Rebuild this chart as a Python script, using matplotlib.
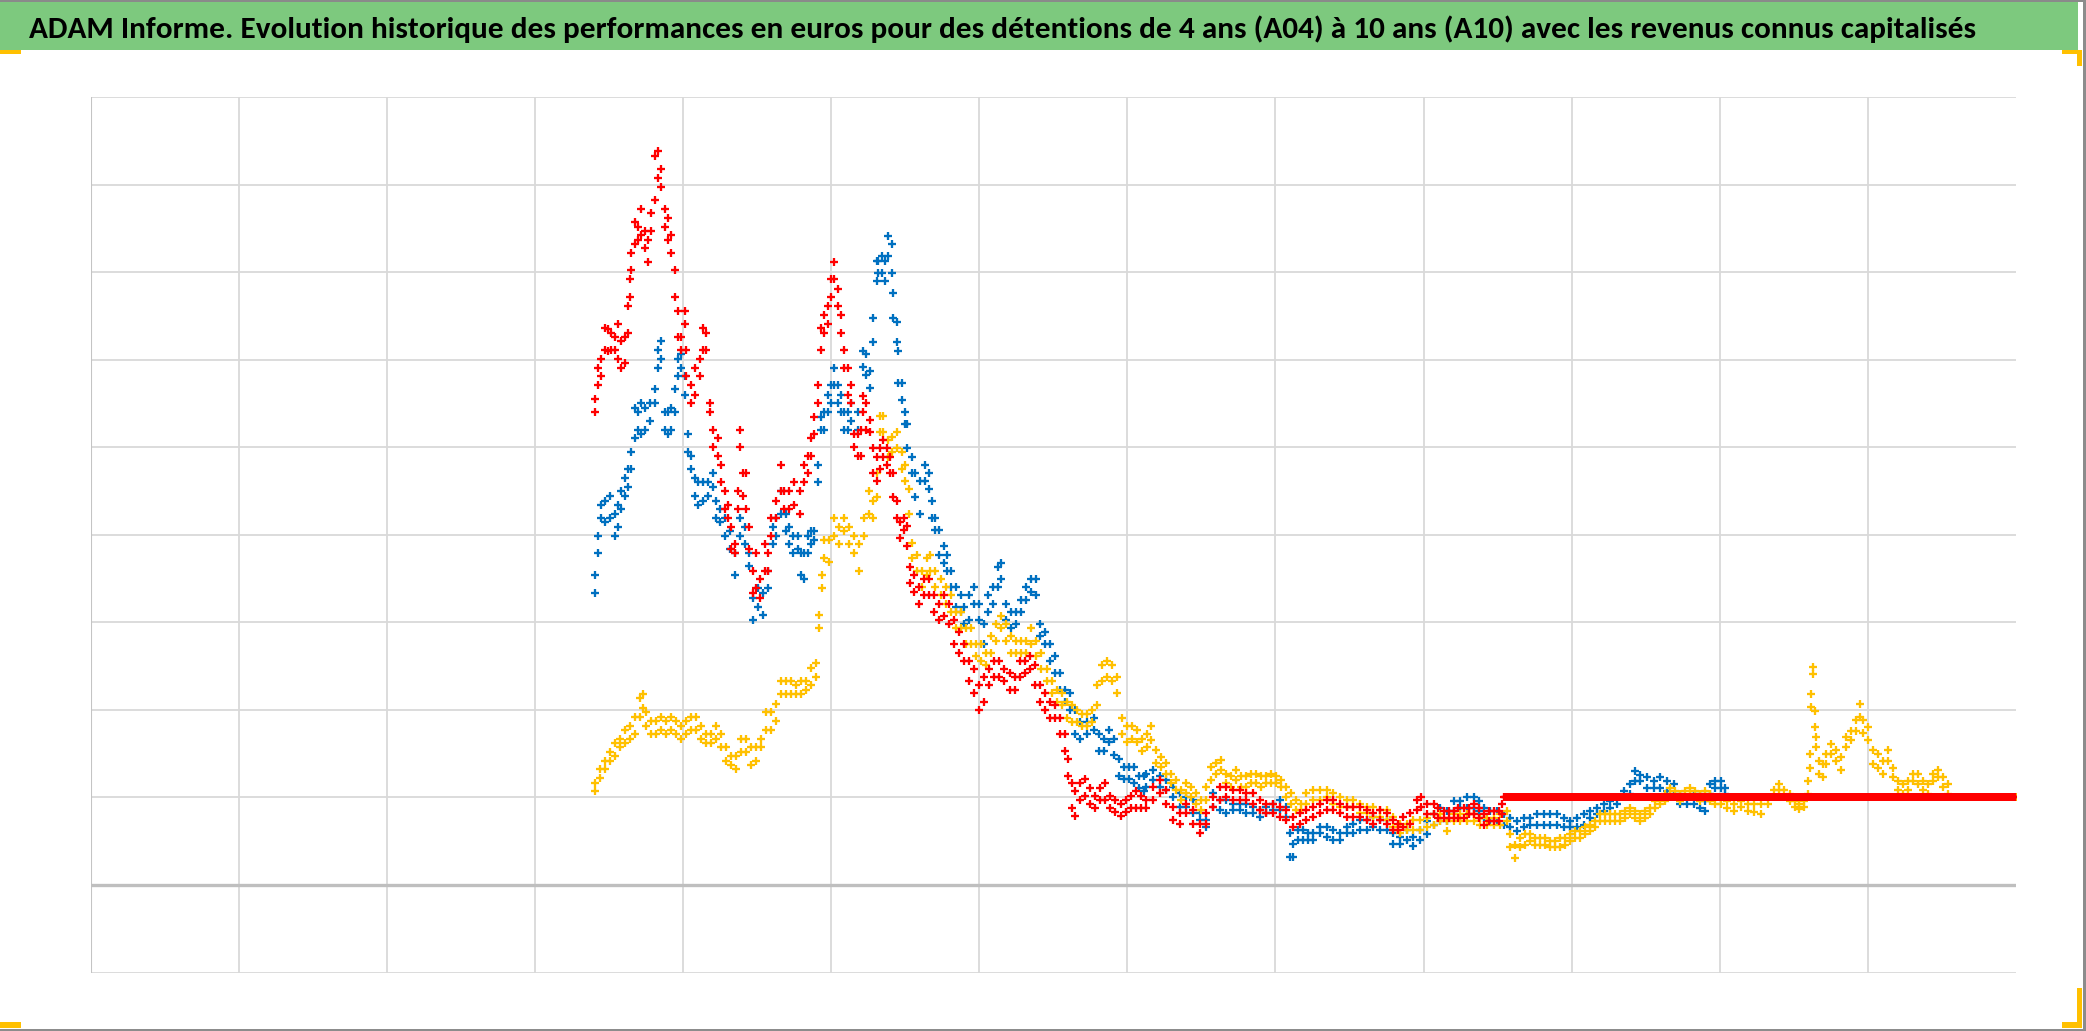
import numpy as np
import matplotlib
matplotlib.use("Agg")
import matplotlib.pyplot as plt
from matplotlib.patches import Rectangle
from matplotlib import font_manager

# ---------------- data (x in grid units, each sample: (x, low, high) of the marker cloud) -------------
title = ("ADAM Informe. Evolution historique des performances en euros pour des détentions "
         "de 4 ans (A04) à 10 ans (A10) avec les revenus connus capitalisés")

blue_pts = [
    (3.404, 3.34, 3.54), (3.427, 3.79, 3.99), (3.449, 4.19, 4.34), (3.472, 4.14, 4.39), (3.506, 4.19, 4.44),
    (3.539, 3.99, 4.24), (3.562, 4.09, 4.34), (3.584, 4.29, 4.50), (3.607, 4.44, 4.65), (3.629, 4.55, 4.75),
    (3.652, 4.75, 4.95), (3.674, 5.10, 5.45), (3.697, 5.20, 5.40), (3.719, 5.15, 5.50), (3.742, 5.20, 5.45),
    (3.775, 5.30, 5.50), (3.809, 5.50, 5.66), (3.831, 5.91, 6.11), (3.854, 6.01, 6.21), (3.876, 5.20, 5.40),
    (3.899, 5.15, 5.40), (3.921, 5.20, 5.45), (3.944, 5.40, 5.66), (3.966, 5.81, 6.01), (3.989, 5.91, 6.06),
    (4.011, 5.60, 5.81), (4.034, 4.95, 5.15), (4.056, 4.75, 4.90), (4.079, 4.44, 4.65), (4.101, 4.34, 4.60),
    (4.135, 4.39, 4.60), (4.169, 4.44, 4.60), (4.202, 4.55, 4.70), (4.225, 4.19, 4.39), (4.247, 4.14, 4.29),
    (4.281, 3.99, 4.19), (4.315, 3.84, 4.04), (4.348, 3.54, 3.79), (4.382, 3.99, 4.19), (4.416, 3.89, 4.09),
    (4.449, 3.64, 3.79), (4.472, 3.03, 3.28), (4.506, 3.18, 3.39), (4.539, 3.08, 3.34), (4.573, 3.39, 3.59),
    (4.607, 3.89, 4.09), (4.629, 3.99, 4.19), (4.663, 4.24, 4.50), (4.697, 4.04, 4.24), (4.719, 3.89, 4.09),
    (4.742, 3.79, 3.99), (4.775, 3.84, 3.99), (4.798, 3.54, 3.79), (4.820, 3.49, 3.79), (4.843, 3.79, 3.99),
    (4.865, 3.89, 4.04), (4.888, 3.94, 4.04), (4.910, 4.60, 4.80), (4.933, 5.20, 5.35), (4.955, 5.20, 5.40),
    (4.978, 5.40, 5.60), (5.000, 5.50, 5.71), (5.022, 5.71, 5.91), (5.045, 5.50, 5.71), (5.067, 5.40, 5.60),
    (5.090, 5.20, 5.40), (5.112, 5.20, 5.40), (5.135, 5.30, 5.50), (5.180, 5.20, 5.40), (5.216, 5.92, 6.10),
    (5.239, 5.82, 6.06), (5.261, 5.68, 5.87), (5.284, 6.20, 6.48), (5.307, 6.90, 7.13), (5.318, 6.99, 7.13),
    (5.341, 6.99, 7.18), (5.364, 6.90, 7.13), (5.386, 7.18, 7.41), (5.409, 6.99, 7.32), (5.420, 6.48, 6.76),
    (5.443, 6.20, 6.43), (5.455, 5.73, 6.10), (5.477, 5.54, 5.73), (5.500, 5.26, 5.40), (5.511, 4.99, 5.26),
    (5.545, 4.71, 4.89), (5.568, 4.43, 4.71), (5.602, 4.24, 4.61), (5.636, 4.61, 4.80), (5.659, 4.52, 4.71),
    (5.682, 4.19, 4.38), (5.705, 4.05, 4.19), (5.727, 3.77, 4.05), (5.761, 3.68, 3.87), (5.784, 3.59, 3.77),
    (5.807, 3.40, 3.59), (5.841, 3.17, 3.40), (5.875, 3.12, 3.31), (5.898, 2.98, 3.17), (5.932, 3.03, 3.31),
    (5.966, 3.21, 3.40), (6.000, 3.03, 3.21), (6.034, 2.75, 2.98), (6.057, 3.12, 3.31), (6.091, 3.21, 3.40),
    (6.125, 3.40, 3.63), (6.148, 3.49, 3.68), (6.182, 3.03, 3.21), (6.216, 2.93, 3.12), (6.250, 2.98, 3.12),
    (6.284, 3.12, 3.26), (6.318, 3.26, 3.40), (6.352, 3.35, 3.49), (6.386, 3.31, 3.49), (6.409, 2.84, 2.98),
    (6.443, 2.75, 2.89), (6.477, 2.56, 2.75), (6.511, 2.42, 2.61), (6.545, 2.23, 2.42), (6.580, 2.09, 2.23),
    (6.614, 2.00, 2.19), (6.648, 1.72, 2.00), (6.682, 1.67, 1.86), (6.727, 1.72, 1.86), (6.773, 1.77, 1.91),
    (6.807, 1.53, 1.72), (6.841, 1.53, 1.67), (6.875, 1.63, 1.77), (6.909, 1.49, 1.67), (6.943, 1.25, 1.44),
    (6.977, 1.21, 1.35), (7.011, 1.21, 1.35), (7.045, 1.16, 1.35), (7.080, 1.11, 1.25), (7.114, 1.07, 1.25),
    (7.128, 1.12, 1.27), (7.173, 1.20, 1.31), (7.218, 1.12, 1.24), (7.264, 1.08, 1.20), (7.309, 1.01, 1.12),
    (7.354, 0.89, 1.05), (7.399, 0.89, 1.01), (7.444, 0.82, 0.97), (7.489, 0.74, 0.82), (7.534, 0.66, 0.74),
    (7.579, 0.89, 1.05), (7.624, 0.86, 0.97), (7.669, 0.82, 0.97), (7.714, 0.86, 0.93), (7.759, 0.86, 0.93),
    (7.804, 0.82, 0.93), (7.849, 0.82, 0.89), (7.894, 0.78, 0.86), (7.939, 0.82, 0.89), (7.984, 0.86, 0.93),
    (8.029, 0.86, 0.97), (8.074, 0.78, 0.89), (8.097, 0.32, 0.59), (8.119, 0.32, 0.47), (8.153, 0.51, 0.63),
    (8.187, 0.51, 0.63), (8.221, 0.51, 0.59), (8.255, 0.51, 0.59), (8.300, 0.59, 0.66), (8.345, 0.55, 0.66),
    (8.390, 0.51, 0.63), (8.435, 0.51, 0.59), (8.480, 0.59, 0.66), (8.525, 0.59, 0.70), (8.570, 0.63, 0.74),
    (8.615, 0.63, 0.74), (8.660, 0.66, 0.78), (8.705, 0.63, 0.74), (8.750, 0.63, 0.74), (8.795, 0.47, 0.59),
    (8.840, 0.47, 0.55), (8.885, 0.51, 0.63), (8.930, 0.44, 0.55), (8.975, 0.51, 0.63), (9.023, 0.58, 0.73),
    (9.068, 0.69, 0.81), (9.113, 0.73, 0.88), (9.158, 0.73, 0.85), (9.203, 0.85, 0.96), (9.248, 0.88, 0.96),
    (9.293, 0.88, 1.00), (9.338, 0.88, 1.00), (9.372, 0.85, 0.96), (9.405, 0.77, 0.88), (9.450, 0.73, 0.85),
    (9.495, 0.73, 0.85), (9.541, 0.69, 0.81), (9.586, 0.66, 0.77), (9.631, 0.62, 0.73), (9.676, 0.66, 0.77),
    (9.721, 0.69, 0.77), (9.766, 0.69, 0.81), (9.811, 0.69, 0.81), (9.856, 0.69, 0.81), (9.901, 0.69, 0.81),
    (9.946, 0.66, 0.77), (9.991, 0.66, 0.73), (10.036, 0.66, 0.77), (10.081, 0.69, 0.81), (10.126, 0.77, 0.85),
    (10.171, 0.81, 0.88), (10.216, 0.85, 0.92), (10.261, 0.88, 0.96), (10.306, 0.92, 1.00), (10.351, 1.00, 1.07),
    (10.396, 1.04, 1.15), (10.430, 1.19, 1.30), (10.464, 1.19, 1.26), (10.509, 1.11, 1.23), (10.554, 1.11, 1.19),
    (10.599, 1.11, 1.23), (10.644, 1.07, 1.19), (10.689, 1.04, 1.15), (10.734, 0.92, 1.04), (10.779, 0.92, 1.00),
    (10.824, 0.92, 1.04), (10.869, 0.88, 1.04), (10.903, 0.85, 0.96), (10.937, 1.04, 1.15), (10.971, 1.11, 1.19),
    (11.005, 1.11, 1.19), (11.038, 1.04, 1.11),
]

yellow_pts = [
    (3.404, 1.07, 1.17), (3.438, 1.22, 1.32), (3.472, 1.32, 1.42), (3.506, 1.42, 1.52), (3.539, 1.47, 1.62),
    (3.573, 1.57, 1.67), (3.607, 1.62, 1.77), (3.640, 1.67, 1.82), (3.674, 1.72, 1.92), (3.708, 1.92, 2.13),
    (3.730, 2.02, 2.18), (3.753, 1.82, 1.97), (3.787, 1.72, 1.87), (3.820, 1.72, 1.87), (3.854, 1.77, 1.92),
    (3.888, 1.72, 1.87), (3.921, 1.77, 1.92), (3.955, 1.72, 1.87), (3.989, 1.67, 1.82), (4.022, 1.72, 1.87),
    (4.056, 1.77, 1.92), (4.090, 1.77, 1.92), (4.124, 1.67, 1.82), (4.157, 1.62, 1.72), (4.191, 1.62, 1.72),
    (4.225, 1.67, 1.82), (4.258, 1.57, 1.72), (4.292, 1.42, 1.57), (4.326, 1.37, 1.47), (4.360, 1.32, 1.47),
    (4.393, 1.52, 1.67), (4.427, 1.52, 1.67), (4.461, 1.37, 1.57), (4.494, 1.42, 1.57), (4.528, 1.57, 1.67),
    (4.562, 1.77, 1.97), (4.596, 1.77, 1.97), (4.629, 1.87, 2.07), (4.663, 2.18, 2.33), (4.697, 2.18, 2.33),
    (4.730, 2.18, 2.33), (4.764, 2.18, 2.28), (4.798, 2.18, 2.33), (4.831, 2.23, 2.33), (4.865, 2.28, 2.48),
    (4.899, 2.38, 2.53), (4.921, 2.93, 3.08), (4.937, 3.39, 3.54), (4.955, 3.74, 3.94), (4.989, 3.69, 3.94),
    (5.022, 3.99, 4.19), (5.056, 3.89, 4.09), (5.090, 4.04, 4.19), (5.124, 3.89, 4.09), (5.157, 3.79, 3.99),
    (5.191, 3.59, 3.89), (5.225, 3.99, 4.19), (5.258, 4.24, 4.50), (5.284, 4.19, 4.38), (5.307, 4.43, 4.71),
    (5.330, 5.17, 5.36), (5.352, 5.17, 5.36), (5.386, 4.89, 5.08), (5.409, 4.94, 5.12), (5.443, 4.99, 5.17),
    (5.477, 4.75, 4.94), (5.500, 4.61, 4.80), (5.523, 4.24, 4.52), (5.545, 3.73, 3.91), (5.580, 3.59, 3.77),
    (5.614, 3.40, 3.59), (5.648, 3.54, 3.73), (5.670, 3.59, 3.77), (5.705, 3.40, 3.59), (5.739, 3.31, 3.49),
    (5.773, 3.21, 3.40), (5.807, 3.12, 3.31), (5.841, 2.93, 3.12), (5.875, 2.93, 3.12), (5.909, 2.75, 2.93),
    (5.943, 2.75, 2.93), (5.977, 2.61, 2.75), (6.011, 2.56, 2.75), (6.045, 2.51, 2.65), (6.080, 2.65, 2.84),
    (6.114, 2.79, 2.98), (6.148, 2.93, 3.07), (6.182, 2.79, 2.98), (6.216, 2.65, 2.84), (6.250, 2.65, 2.79),
    (6.284, 2.65, 2.79), (6.318, 2.65, 2.79), (6.352, 2.75, 2.93), (6.386, 2.61, 2.79), (6.420, 2.47, 2.65),
    (6.455, 2.33, 2.47), (6.489, 2.19, 2.33), (6.523, 2.09, 2.23), (6.557, 2.05, 2.19), (6.591, 1.91, 2.09),
    (6.625, 1.86, 2.05), (6.659, 1.86, 2.00), (6.693, 1.81, 1.95), (6.727, 1.81, 1.95), (6.761, 1.86, 2.00),
    (6.795, 2.05, 2.28), (6.830, 2.33, 2.51), (6.864, 2.37, 2.56), (6.898, 2.33, 2.51), (6.932, 2.19, 2.37),
    (6.966, 1.72, 1.91), (7.000, 1.63, 1.81), (7.034, 1.67, 1.81), (7.068, 1.63, 1.77), (7.102, 1.53, 1.67),
    (7.136, 1.58, 1.72), (7.162, 1.66, 1.81), (7.196, 1.39, 1.54), (7.230, 1.35, 1.46), (7.264, 1.27, 1.39),
    (7.297, 1.16, 1.27), (7.331, 1.08, 1.20), (7.365, 0.97, 1.08), (7.399, 1.05, 1.16), (7.432, 1.01, 1.12),
    (7.466, 0.93, 1.05), (7.500, 0.86, 0.97), (7.534, 0.97, 1.12), (7.568, 1.20, 1.35), (7.601, 1.27, 1.39),
    (7.635, 1.31, 1.43), (7.669, 1.16, 1.27), (7.703, 1.12, 1.24), (7.736, 1.20, 1.31), (7.770, 1.12, 1.24),
    (7.804, 1.12, 1.24), (7.838, 1.16, 1.27), (7.872, 1.16, 1.27), (7.905, 1.12, 1.24), (7.939, 1.16, 1.24),
    (7.973, 1.16, 1.27), (8.007, 1.16, 1.24), (8.041, 1.12, 1.20), (8.074, 1.01, 1.12), (8.108, 0.93, 1.05),
    (8.142, 0.86, 0.97), (8.176, 0.86, 0.93), (8.209, 0.93, 1.05), (8.255, 0.97, 1.08), (8.300, 0.97, 1.08),
    (8.345, 1.01, 1.08), (8.390, 0.93, 1.05), (8.435, 0.89, 1.01), (8.480, 0.89, 0.97), (8.525, 0.89, 0.97),
    (8.570, 0.82, 0.93), (8.615, 0.82, 0.89), (8.660, 0.78, 0.89), (8.705, 0.78, 0.86), (8.750, 0.74, 0.86),
    (8.795, 0.66, 0.78), (8.840, 0.59, 0.70), (8.885, 0.63, 0.70), (8.930, 0.63, 0.74), (8.975, 0.63, 0.74),
    (9.023, 0.66, 0.77), (9.068, 0.69, 0.81), (9.113, 0.73, 0.81), (9.158, 0.62, 0.73), (9.203, 0.73, 0.81),
    (9.248, 0.73, 0.81), (9.293, 0.73, 0.81), (9.338, 0.73, 0.81), (9.383, 0.69, 0.77), (9.428, 0.69, 0.77),
    (9.473, 0.69, 0.77), (9.518, 0.69, 0.81), (9.563, 0.73, 0.85), (9.586, 0.43, 0.58), (9.619, 0.31, 0.46),
    (9.653, 0.43, 0.54), (9.687, 0.46, 0.58), (9.721, 0.50, 0.58), (9.755, 0.46, 0.54), (9.788, 0.46, 0.54),
    (9.822, 0.46, 0.54), (9.856, 0.43, 0.50), (9.890, 0.43, 0.50), (9.923, 0.43, 0.54), (9.957, 0.46, 0.54),
    (9.991, 0.50, 0.58), (10.025, 0.54, 0.62), (10.059, 0.54, 0.62), (10.092, 0.58, 0.66), (10.126, 0.62, 0.69),
    (10.160, 0.66, 0.73), (10.194, 0.73, 0.81), (10.227, 0.73, 0.81), (10.261, 0.73, 0.81), (10.295, 0.73, 0.81),
    (10.329, 0.73, 0.81), (10.363, 0.77, 0.85), (10.396, 0.81, 0.88), (10.430, 0.77, 0.85), (10.464, 0.73, 0.81),
    (10.498, 0.77, 0.85), (10.532, 0.81, 0.88), (10.565, 0.88, 0.96), (10.599, 0.92, 1.00), (10.633, 0.96, 1.04),
    (10.667, 1.04, 1.11), (10.700, 1.00, 1.07), (10.734, 0.96, 1.04), (10.768, 1.00, 1.07), (10.802, 1.04, 1.11),
    (10.836, 1.00, 1.07), (10.869, 0.96, 1.04), (10.903, 1.00, 1.07), (10.937, 0.96, 1.04), (10.971, 0.92, 1.00),
    (11.005, 0.92, 1.00), (11.050, 0.88, 0.96), (11.099, 0.85, 0.93), (11.144, 0.89, 0.96), (11.189, 0.85, 0.93),
    (11.234, 0.83, 0.93), (11.279, 0.81, 0.93), (11.324, 0.93, 1.00), (11.369, 1.00, 1.08), (11.403, 1.08, 1.15),
    (11.437, 1.00, 1.08), (11.471, 0.96, 1.04), (11.505, 0.89, 0.96), (11.538, 0.87, 0.93), (11.572, 0.89, 0.96),
    (11.595, 1.04, 1.19), (11.606, 1.34, 1.50), (11.617, 2.03, 2.18), (11.628, 2.41, 2.49), (11.640, 1.80, 1.99),
    (11.651, 1.57, 1.69), (11.673, 1.27, 1.42), (11.696, 1.23, 1.38), (11.718, 1.38, 1.50), (11.752, 1.50, 1.61),
    (11.786, 1.42, 1.54), (11.820, 1.31, 1.46), (11.854, 1.57, 1.69), (11.887, 1.65, 1.76), (11.921, 1.76, 1.88),
    (11.944, 1.92, 2.07), (11.966, 1.73, 1.88), (12.000, 1.65, 1.80), (12.034, 1.38, 1.54), (12.068, 1.34, 1.50),
    (12.101, 1.27, 1.42), (12.135, 1.42, 1.54), (12.169, 1.23, 1.34), (12.203, 1.08, 1.19), (12.236, 1.04, 1.15),
    (12.270, 1.08, 1.19), (12.304, 1.19, 1.27), (12.338, 1.15, 1.27), (12.372, 1.08, 1.19), (12.405, 1.04, 1.15),
    (12.439, 1.19, 1.27), (12.473, 1.23, 1.31), (12.507, 1.12, 1.23), (12.541, 1.04, 1.15),
]
yellow_flat = (12.56, 13.0, 1.0)   # start, end, constant value

red_pts = [
    (3.404, 5.40, 5.55), (3.427, 5.71, 5.91), (3.449, 5.81, 6.01), (3.472, 6.11, 6.36), (3.494, 6.10, 6.35),
    (3.517, 6.11, 6.31), (3.539, 6.11, 6.26), (3.562, 6.01, 6.41), (3.584, 5.91, 6.21), (3.607, 5.96, 6.26),
    (3.629, 6.31, 6.61), (3.640, 6.71, 6.92), (3.652, 7.02, 7.22), (3.674, 7.32, 7.57), (3.697, 7.37, 7.52),
    (3.719, 7.42, 7.72), (3.742, 7.27, 7.47), (3.764, 7.12, 7.37), (3.787, 7.47, 7.67), (3.809, 7.82, 8.33),
    (3.831, 8.08, 8.38), (3.854, 7.97, 8.18), (3.876, 7.52, 7.72), (3.899, 7.37, 7.62), (3.921, 7.22, 7.42),
    (3.944, 6.71, 7.02), (3.966, 6.26, 6.56), (3.989, 6.11, 6.26), (4.011, 6.41, 6.56), (4.022, 5.81, 6.11),
    (4.056, 5.50, 5.71), (4.079, 5.60, 5.91), (4.112, 5.81, 6.01), (4.135, 6.11, 6.36), (4.157, 6.11, 6.31),
    (4.180, 5.40, 5.50), (4.202, 5.00, 5.20), (4.236, 4.90, 5.10), (4.258, 4.60, 4.80), (4.281, 4.29, 4.50),
    (4.303, 4.19, 4.34), (4.326, 3.84, 4.09), (4.348, 3.79, 3.89), (4.371, 4.29, 4.50), (4.382, 5.00, 5.20),
    (4.404, 4.44, 4.70), (4.427, 4.29, 4.70), (4.449, 3.84, 4.09), (4.472, 3.34, 3.59), (4.494, 3.39, 3.79),
    (4.517, 3.28, 3.49), (4.551, 3.59, 3.89), (4.573, 3.59, 3.79), (4.596, 3.99, 4.19), (4.629, 4.19, 4.39),
    (4.663, 4.50, 4.80), (4.685, 4.29, 4.50), (4.719, 4.29, 4.50), (4.753, 4.34, 4.60), (4.787, 4.24, 4.50),
    (4.820, 4.60, 4.80), (4.843, 4.70, 4.90), (4.865, 4.90, 5.10), (4.888, 5.15, 5.35), (4.910, 5.50, 5.71),
    (4.933, 6.11, 6.36), (4.955, 6.31, 6.51), (4.978, 6.41, 6.61), (5.000, 6.71, 6.92), (5.022, 6.92, 7.12),
    (5.045, 6.61, 6.81), (5.067, 6.31, 6.51), (5.090, 5.91, 6.11), (5.112, 5.60, 5.91), (5.135, 5.50, 5.71),
    (5.157, 5.00, 5.15), (5.180, 4.90, 5.15), (5.202, 4.90, 5.20), (5.216, 5.40, 5.59), (5.236, 5.20, 5.50),
    (5.261, 5.17, 5.31), (5.284, 4.71, 4.99), (5.307, 4.61, 4.89), (5.330, 4.75, 4.99), (5.352, 4.89, 5.08),
    (5.375, 4.80, 4.99), (5.398, 4.71, 4.89), (5.420, 4.43, 4.71), (5.443, 4.19, 4.38), (5.466, 3.96, 4.15),
    (5.489, 4.05, 4.19), (5.511, 3.87, 4.10), (5.534, 3.45, 3.63), (5.557, 3.35, 3.54), (5.591, 3.21, 3.40),
    (5.625, 3.31, 3.49), (5.659, 3.31, 3.49), (5.693, 3.12, 3.31), (5.727, 3.03, 3.21), (5.761, 3.07, 3.31),
    (5.795, 2.98, 3.21), (5.830, 2.75, 3.03), (5.864, 2.65, 2.89), (5.898, 2.56, 2.75), (5.932, 2.33, 2.56),
    (5.966, 2.19, 2.47), (6.000, 2.00, 2.28), (6.034, 2.09, 2.37), (6.068, 2.28, 2.47), (6.102, 2.37, 2.56),
    (6.136, 2.37, 2.56), (6.170, 2.33, 2.47), (6.205, 2.23, 2.42), (6.239, 2.23, 2.37), (6.273, 2.37, 2.56),
    (6.307, 2.42, 2.56), (6.341, 2.47, 2.61), (6.375, 2.28, 2.51), (6.409, 2.09, 2.28), (6.443, 2.00, 2.19),
    (6.477, 1.91, 2.09), (6.511, 1.91, 2.05), (6.545, 1.72, 1.91), (6.580, 1.53, 1.72), (6.602, 1.25, 1.44),
    (6.625, 0.88, 1.16), (6.648, 0.79, 1.07), (6.682, 0.97, 1.16), (6.716, 1.02, 1.21), (6.750, 0.93, 1.11),
    (6.784, 0.88, 1.02), (6.818, 0.97, 1.11), (6.852, 0.97, 1.16), (6.886, 0.88, 1.02), (6.920, 0.83, 0.97),
    (6.955, 0.79, 0.93), (6.989, 0.83, 0.97), (7.023, 0.88, 1.02), (7.057, 0.88, 1.07), (7.091, 0.88, 1.02),
    (7.125, 0.88, 0.97), (7.173, 0.97, 1.12), (7.218, 1.05, 1.20), (7.264, 0.93, 1.08), (7.309, 0.74, 0.89),
    (7.354, 0.70, 0.82), (7.399, 0.82, 0.93), (7.444, 0.70, 0.86), (7.489, 0.59, 0.70), (7.534, 0.70, 0.82),
    (7.579, 0.89, 1.01), (7.624, 0.97, 1.12), (7.669, 1.01, 1.12), (7.714, 0.97, 1.08), (7.759, 0.97, 1.08),
    (7.804, 0.97, 1.05), (7.849, 0.93, 1.05), (7.894, 0.86, 0.97), (7.939, 0.82, 0.93), (7.984, 0.82, 0.93),
    (8.029, 0.78, 0.89), (8.074, 0.74, 0.86), (8.119, 0.66, 0.78), (8.164, 0.70, 0.82), (8.209, 0.74, 0.86),
    (8.255, 0.78, 0.89), (8.300, 0.82, 0.93), (8.345, 0.86, 0.97), (8.390, 0.86, 0.97), (8.435, 0.82, 0.93),
    (8.480, 0.78, 0.89), (8.525, 0.78, 0.89), (8.570, 0.78, 0.89), (8.615, 0.74, 0.86), (8.660, 0.70, 0.82),
    (8.705, 0.74, 0.86), (8.750, 0.70, 0.82), (8.795, 0.63, 0.74), (8.829, 0.63, 0.70), (8.863, 0.66, 0.78),
    (8.908, 0.70, 0.82), (8.953, 0.86, 0.97), (8.986, 0.89, 1.01), (9.023, 0.81, 0.92), (9.068, 0.81, 0.92),
    (9.101, 0.77, 0.88), (9.135, 0.77, 0.85), (9.169, 0.77, 0.85), (9.203, 0.77, 0.85), (9.236, 0.77, 0.88),
    (9.270, 0.77, 0.88), (9.304, 0.81, 0.88), (9.338, 0.81, 0.92), (9.372, 0.77, 0.88), (9.405, 0.69, 0.81),
    (9.439, 0.73, 0.85), (9.473, 0.73, 0.85), (9.507, 0.73, 0.85), (9.529, 0.81, 0.92),
]
red_flat = (9.54, 13.0, 1.0)   # start, end, constant value

series_colors = {"blue": "#0070C0", "yellow": "#FFC000", "red": "#FF0000"}

# ---------------- figure ----------------
W, H, DPI = 2086, 1031, 100
fig = plt.figure(figsize=(W / DPI, H / DPI), dpi=DPI, facecolor="white")


def fx(px):
    return px / W


def fy(py):
    return 1 - py / H


ax = fig.add_axes([fx(90.5), fy(972.5), fx(2016) - fx(90.5), fy(97) - fy(972.5)])
ax.set_xlim(0, 13)
ax.set_ylim(-1, 9)
ax.set_xticks(range(0, 13))
ax.set_yticks(range(-1, 10))
ax.grid(True, color="#D9D9D9", lw=1.3)
ax.set_axisbelow(True)
ax.tick_params(length=0, labelbottom=False, labelleft=False)
for s in ax.spines.values():
    s.set_visible(False)
ax.axvline(0, color="#C4C4C4", lw=1.5, zorder=1)
ax.axhline(0, color="#BFBFBF", lw=2.4, zorder=1)

MS, MEW = 6.4, 1.65


def draw(pts, color, flat=None):
    arr = np.array(pts)
    x, lo, hi = arr[:, 0], arr[:, 1], arr[:, 2]
    ax.plot(x, lo, ls="none", marker="+", ms=MS, mew=MEW, color=color, zorder=3)
    ax.plot(x, hi, ls="none", marker="+", ms=MS, mew=MEW, color=color, zorder=3)
    if flat is not None:
        start, end, val = flat
        fxs = np.arange(start, end + 1e-9, 0.008)
        ax.plot(fxs, np.full_like(fxs, val), ls="none", marker="+", ms=MS, mew=MEW, color=color, zorder=3)


draw(blue_pts, series_colors["blue"])
draw(yellow_pts, series_colors["yellow"], yellow_flat)
draw(red_pts, series_colors["red"], red_flat)

# ---------------- title bar and window decorations ----------------
fig.add_artist(Rectangle((0, fy(50)), fx(2078), 50 / H, transform=fig.transFigure,
                         facecolor="#7DC97E", edgecolor="none", zorder=0))
fig.add_artist(Rectangle((0, fy(2)), 1, 2 / H, transform=fig.transFigure,
                         facecolor="#8A8A8A", edgecolor="none", zorder=1))
fig.add_artist(Rectangle((fx(2083), 0), fx(3), 1, transform=fig.transFigure,
                         facecolor="#8C8C8C", edgecolor="none", zorder=1))
fig.add_artist(Rectangle((0, 0), 1, 2.5 / H, transform=fig.transFigure,
                         facecolor="#8C8C8C", edgecolor="none", zorder=1))
orange = "#FFC000"
for (x0, y0, w, h) in [(0, 50, 21, 4), (0, 1022, 21, 6), (2062, 50, 20, 4), (2077, 50, 5, 16),
                       (2077, 988, 5, 40), (2062, 1022, 20, 6)]:
    fig.add_artist(Rectangle((fx(x0), fy(y0 + h)), w / W, h / H, transform=fig.transFigure,
                             facecolor=orange, edgecolor="none", zorder=2))

# title font: prefer a Calibri-like face
title_family = ["DejaVu Sans"]
for cand in ["Carlito", "Liberation Sans"]:
    try:
        font_manager.findfont(font_manager.FontProperties(family=cand), fallback_to_default=False)
        title_family = [cand, "DejaVu Sans"]
        break
    except Exception:
        pass

t = fig.text(fx(29), fy(38), title, fontsize=20, fontweight="bold",
             family=title_family, ha="left", va="baseline", color="black")
fig.canvas.draw()
bb = t.get_window_extent(fig.canvas.get_renderer())
target = 1946.0
t.set_fontsize(20 * target / bb.width)

fig.savefig("out.png", dpi=DPI, facecolor="white")
